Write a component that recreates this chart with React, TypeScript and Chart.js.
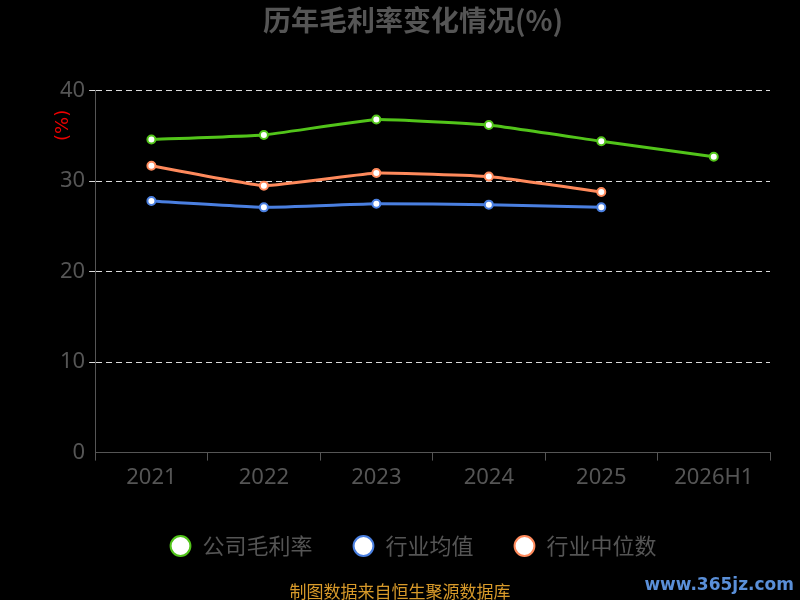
import React, { useEffect, useRef } from "react";
import { Chart, registerables } from "chart.js";
Chart.register(...registerables);

const categories = ["2021", "2022", "2023", "2024", "2025", "2026H1"];
const companyMargin = [34.6, 35.1, 36.8, 36.2, 34.4, 32.7];
const industryAvg = [27.8, 27.1, 27.5, 27.4, 27.1, null];
const industryMedian = [31.7, 29.5, 30.9, 30.5, 28.8, null];

export default function App() {
  const ref = useRef<HTMLCanvasElement>(null);
  useEffect(() => {
    const mk = (label: string, data: any[], color: string) => ({
      label, data, borderColor: color, backgroundColor: "#fff",
      pointBackgroundColor: "#fff", pointBorderColor: color, pointBorderWidth: 2,
      pointRadius: 4, borderWidth: 3, tension: 0.1,
    });
    const chart = new Chart(ref.current!, {
      type: "line",
      data: {
        labels: categories,
        datasets: [
          mk("公司毛利率", companyMargin, "#52c41a"),
          mk("行业均值", industryAvg, "#4a7fe0"),
          mk("行业中位数", industryMedian, "#ff8a5c"),
        ],
      },
      options: {
        animation: false, responsive: false,
        layout: { padding: { left: 56, right: 30, top: 0, bottom: 33 } },
        plugins: {
          title: { display: true, text: "历年毛利率变化情况(%)", color: "#555", font: { size: 28, weight: "bold", family: "Noto Sans CJK SC" }, padding: { top: 4, bottom: 53 } },
          legend: {
            position: "bottom",
            labels: { color: "#555", font: { size: 22, family: "Noto Sans CJK SC" }, usePointStyle: true, pointStyle: "circle", boxHeight: 14, padding: 40 },
          },
          tooltip: { enabled: false },
        },
        scales: {
          x: {
            offset: true,
            grid: { offset: true, drawOnChartArea: false, color: "#555", tickLength: 8 },
            border: { color: "#555" },
            ticks: { color: "#555", font: { size: 22, family: "Noto Sans" }, padding: 4 },
          },
          y: {
            min: 0, max: 40,
            ticks: { stepSize: 10, color: "#555", font: { size: 22, family: "Noto Sans" }, padding: 4 },
            grid: { color: (c: any) => (c.tick.value === 0 ? "transparent" : "#ddd"), tickLength: 6 },
            border: { color: "#555", dash: [6, 4] },
          },
        },
      },
    });
    return () => chart.destroy();
  }, []);
  return (
    <div style={{ position: "absolute", left: 0, top: 0, width: 800, height: 600, background: "#000" }}>
      <canvas ref={ref} width={800} height={600} />
      <div style={{ position: "absolute", left: 48, top: 114, width: 30, height: 24, transform: "rotate(-90deg)", color: "#e00", fontSize: 18, textAlign: "center", fontFamily: "DejaVu Sans" }}>(%)</div>
      <div style={{ position: "absolute", left: 0, width: 800, top: 578, textAlign: "center", color: "#d89a2a", fontSize: 17, fontFamily: "Noto Sans CJK SC" }}>制图数据来自恒生聚源数据库</div>
      <div style={{ position: "absolute", right: 6, top: 574, color: "#5a8fd8", fontSize: 17, fontWeight: "bold", fontFamily: "DejaVu Sans" }}>www.365jz.com</div>
    </div>
  );
}
